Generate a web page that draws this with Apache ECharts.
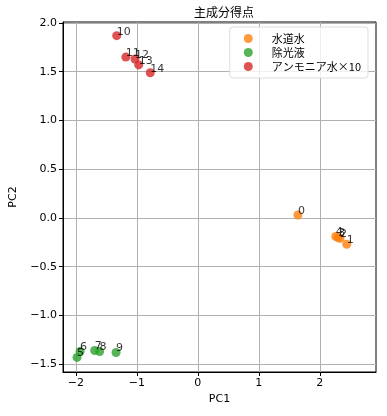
<!DOCTYPE html>
<html><head><meta charset="utf-8">
<script src="https://cdn.jsdelivr.net/npm/echarts@6/dist/echarts.min.js"></script>
<style>html,body{margin:0;padding:0;background:#fff}#c{width:387px;height:416px}</style>
</head><body><div id="c"></div>
<script>
const seriesNames = ['水道水', '除光液', 'アンモニア水×10'];
const labels0 = ['0', '1', '2', '3', '4'];
const pc1_0 = [1.64, 2.44, 2.33, 2.30, 2.26];
const pc2_0 = [0.03, -0.27, -0.21, -0.20, -0.19];
const labels1 = ['5', '6', '7', '8', '9'];
const pc1_1 = [-1.98, -1.93, -1.69, -1.61, -1.34];
const pc2_1 = [-1.43, -1.37, -1.36, -1.37, -1.38];
const labels2 = ['10', '11', '12', '13', '14'];
const pc1_2 = [-1.33, -1.18, -1.03, -0.97, -0.78];
const pc2_2 = [1.87, 1.65, 1.63, 1.57, 1.49];
const xTicks = [-2, -1, 0, 1, 2];
const yTicks = [-1.5, -1.0, -0.5, 0.0, 0.5, 1.0, 1.5, 2.0];

const colors = ['#ff7f0e', '#2ca02c', '#d62728'];
const groups = [[labels0, pc1_0, pc2_0], [labels1, pc1_1, pc2_1], [labels2, pc1_2, pc2_2]];
const font = 'DejaVu Sans';
const fmtMinus = v => String(v).replace('-', '\u2212');

const chart = echarts.init(document.getElementById('c'), null, {renderer: 'canvas'});
chart.setOption({
  animation: false,
  backgroundColor: '#fff',
  title: {text: '主成分得点', left: 219, top: 1, textAlign: 'center',
    textStyle: {fontFamily: 'Noto Sans CJK JP', fontSize: 12, fontWeight: 'normal', color: '#000'}},
  legend: {
    right: 19, top: 27, orient: 'vertical', itemWidth: 9, itemHeight: 9, itemGap: 3,
    icon: 'circle', padding: [6, 7, 6, 14],
    backgroundColor: 'rgba(255,255,255,0.8)', borderColor: '#ddd', borderWidth: 1, borderRadius: 3,
    textStyle: {fontFamily: 'Noto Sans CJK JP', fontSize: 11, color: '#000', padding: [0, 0, 0, 14]},
    data: seriesNames
  },
  grid: {left: 62, right: 11, top: 22, bottom: 44, containLabel: false,
    show: true, borderColor: '#000', borderWidth: 1},
  xAxis: {
    type: 'value', min: -2.21, max: 2.92,
    name: 'PC1', nameLocation: 'middle', nameGap: 22,
    nameTextStyle: {fontFamily: font, fontSize: 11, color: '#000'},
    axisLine: {show: true, onZero: false, lineStyle: {color: '#000', width: 1}},
    axisTick: {show: true, length: 4, customValues: xTicks, lineStyle: {color: '#000'}},
    axisLabel: {customValues: xTicks, fontFamily: font, fontSize: 11, color: '#000', margin: 6,
      formatter: v => fmtMinus(v)},
    splitLine: {show: true, lineStyle: {color: '#b0b0b0', width: 1}}
  },
  yAxis: {
    type: 'value', min: -1.58, max: 2.01,
    name: 'PC2', nameLocation: 'middle', nameGap: 44, nameRotate: 90,
    nameTextStyle: {fontFamily: font, fontSize: 11, color: '#000'},
    axisLine: {show: true, onZero: false, lineStyle: {color: '#000', width: 1}},
    axisTick: {show: true, length: 4, customValues: yTicks, lineStyle: {color: '#000'}},
    axisLabel: {customValues: yTicks, fontFamily: font, fontSize: 11, color: '#000', margin: 6,
      formatter: v => fmtMinus(v.toFixed(1))},
    splitLine: {show: true, lineStyle: {color: '#b0b0b0', width: 1}}
  },
  series: groups.map((g, i) => ({
    type: 'scatter', name: seriesNames[i], symbolSize: 9,
    itemStyle: {color: colors[i], opacity: 0.8},
    data: g[1].map((x, k) => ({value: [x, g[2][k]], name: g[0][k]})),
    label: {show: true, formatter: p => p.name, position: [4.5, 6], align: 'left', verticalAlign: 'bottom',
      fontFamily: font, fontSize: 11, color: '#000'},
    labelLayout: {hideOverlap: false}
  }))
});
</script></body></html>
